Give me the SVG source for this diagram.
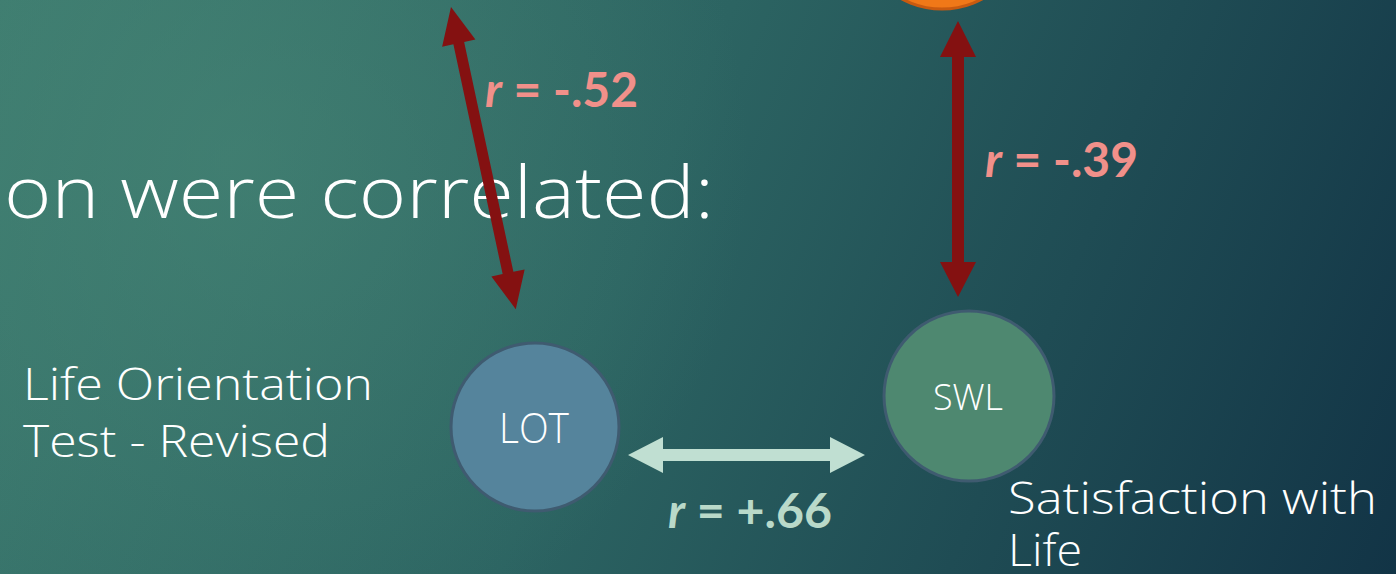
<svg xmlns="http://www.w3.org/2000/svg" width="1396" height="574" viewBox="0 0 1396 574">
<defs>
<linearGradient id="bg" x1="0" y1="0" x2="1396" y2="574" gradientUnits="userSpaceOnUse">
<stop offset="0" stop-color="#3d7b6f"/>
<stop offset="0.45" stop-color="#2c6462"/>
<stop offset="1" stop-color="#123446"/>
</linearGradient>
<radialGradient id="glow" cx="230" cy="160" r="520" gradientUnits="userSpaceOnUse">
<stop offset="0" stop-color="#4a8a78" stop-opacity="0.5"/>
<stop offset="1" stop-color="#4a8a78" stop-opacity="0"/>
</radialGradient>
<style>
.title{font-family:"Open Sans","Liberation Sans",sans-serif;font-weight:300;fill:#ffffff}
.lbl{font-family:"Open Sans","Liberation Sans",sans-serif;font-weight:300;fill:#ffffff}
.r{font-family:Lato,"Liberation Sans",sans-serif;font-weight:bold;font-size:47px}
.neg{fill:#f1908a}
.pos{fill:#b9d9c9}
.node{stroke:#3f5b70;stroke-width:3}
.red{fill:#841111}
.mint{fill:#c0dfd2}
</style>
</defs>
<rect width="1396" height="574" fill="url(#bg)"/>
<rect width="1396" height="574" fill="url(#glow)"/>

<text class="title" x="4" y="218" font-size="72" textLength="710" lengthAdjust="spacingAndGlyphs">on were correlated:</text>

<g id="node-top">
<circle cx="942" cy="-76" r="85" fill="#f07818" stroke="#c85a10" stroke-width="3"/>
</g>

<g id="node-lot">
<circle class="node" cx="535" cy="427" r="84" fill="#55849c"/>
<text class="lbl" x="534" y="443" font-size="42" text-anchor="middle" textLength="70" lengthAdjust="spacingAndGlyphs">LOT</text>
</g>

<g id="node-swl">
<circle class="node" cx="969" cy="396" r="85" fill="#4e8870"/>
<text class="lbl" x="968" y="410" font-size="36" text-anchor="middle" textLength="70" lengthAdjust="spacingAndGlyphs">SWL</text>
</g>

<g id="label-lot">
<text class="lbl" x="23" y="400" font-size="45" textLength="350" lengthAdjust="spacingAndGlyphs">Life Orientation</text>
<text class="lbl" x="23" y="457" font-size="45" textLength="307" lengthAdjust="spacingAndGlyphs">Test - Revised</text>
</g>

<g id="label-swl">
<text class="lbl" font-size="44"><tspan x="1008" y="514" textLength="369" lengthAdjust="spacingAndGlyphs">Satisfaction with</tspan><tspan x="1008" y="566" textLength="74" lengthAdjust="spacingAndGlyphs">Life</tspan></text>
</g>

<g id="connectors">
<g transform="translate(451,7) rotate(-12.1)">
<polygon class="red" points="0,0 17,37 5.5,37 5.5,272 17,272 0,309 -17,272 -5.5,272 -5.5,37 -17,37"/>
</g>
<polygon class="red" points="958,21 976,57 964,57 964,262 976,262 958,297 940,262 952,262 952,57 940,57"/>
<polygon class="mint" points="628,455 663,437 663,449 830,449 830,437 865,455 830,473 830,461 663,461 663,473"/>
<text class="r neg" x="485" y="107" textLength="153" lengthAdjust="spacingAndGlyphs"><tspan font-style="italic">r</tspan> = -.52</text>
<text class="r neg" x="985" y="177" textLength="153" lengthAdjust="spacingAndGlyphs"><tspan font-style="italic">r</tspan> = -.39</text>
<text class="r pos" x="668" y="528" textLength="164" lengthAdjust="spacingAndGlyphs"><tspan font-style="italic">r</tspan> = +.66</text>
</g>
</svg>
